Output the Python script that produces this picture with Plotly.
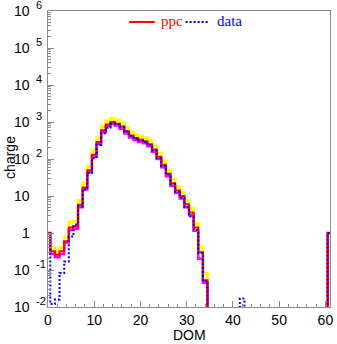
import plotly.graph_objects as go

# DOM number along the string (bins centred on integers)
dom = list(range(62))

# simulated charge (ppc) per DOM
ppc = [1.0, 0.32, 0.26, 0.32, 0.60, 1.4, 1.5, 5.8, 17, 50,
       130, 290, 600, 850, 1000, 900, 750, 560, 430, 370,
       330, 300, 250, 180, 115, 70, 40, 22, 14, 10,
       6.0, 3.6, 1.4, 0.30, 0.053, 0, 0, 0, 0, 0,
       0, 0, 0, 0, 0, 0, 0, 0, 0, 0,
       0, 0, 0, 0, 0, 0, 0, 0, 0, 0,
       0, 1.0]

# upper edge of the simulation band
ppc_hi = [1.0, 0.40, 0.33, 0.40, 0.75, 2.0, 2.1, 7.5, 22, 64,
          165, 370, 760, 1080, 1250, 1120, 940, 700, 530, 460,
          410, 370, 310, 225, 145, 88, 50, 28, 18, 12.5,
          7.5, 4.6, 1.8, 0.42, 0.08, 0, 0, 0, 0, 0,
          0, 0, 0, 0, 0, 0, 0, 0, 0, 0,
          0, 0, 0, 0, 0, 0, 0, 0, 0, 0,
          0, 1.0]

# lower edge of the simulation band
ppc_lo = [1.0, 0.27, 0.22, 0.27, 0.55, 1.2, 1.3, 5.0, 15, 44,
          115, 255, 530, 750, 880, 800, 660, 490, 380, 325,
          290, 265, 220, 158, 100, 60, 34, 19, 12, 8.6,
          5.0, 3.0, 1.15, 0.20, 0.045, 0, 0, 0, 0, 0,
          0, 0, 0, 0, 0, 0, 0, 0, 0, 0,
          0, 0, 0, 0, 0, 0, 0, 0, 0, 0,
          0, 1.0]

# measured charge per DOM
data = [1.0, 0.012, 0.016, 0.083, 0.17, 0.8, 1.7, 5.2, 15, 42,
        105, 240, 500, 700, 900, 870, 740, 550, 420, 360,
        320, 290, 240, 170, 105, 65, 38, 21, 13, 9.0,
        5.0, 2.8, 1.2, 0.29, 0.05, 0, 0, 0, 0, 0,
        0, 0, 0.017, 0, 0, 0, 0, 0, 0, 0,
        0, 0, 0, 0, 0, 0, 0, 0, 0, 0,
        0, 1.0]

# y-axis decades and x-axis ticks
y_exponents = [-2, -1, 0, 1, 2, 3, 4, 5, 6]
x_ticks = [0, 10, 20, 30, 40, 50, 60]

FLOOR = 1e-4  # empty bins are drawn below the visible log range


def steps(vals):
    """Histogram outline: horizontal run over each bin, vertical at edges."""
    xs, ys = [dom[0] - 0.5], [FLOOR]
    for d, v in zip(dom, vals):
        y = v if v > 0 else FLOOR
        xs += [d - 0.5, d + 0.5]
        ys += [y, y]
    xs.append(dom[-1] + 0.5)
    ys.append(FLOOR)
    return xs, ys


fig = go.Figure()

for vals, color, width in [(ppc_hi, "#ffff00", 3), (ppc_lo, "#ff00ff", 2.5)]:
    xs, ys = steps(vals)
    fig.add_trace(go.Scatter(x=xs, y=ys, mode="lines", showlegend=False,
                             line=dict(color=color, width=width), hoverinfo="skip"))

red_line = dict(color="#ff0000", width=2)
blue_line = dict(color="#0000ff", width=2, dash="2px,2px")

xs, ys = steps(ppc)
fig.add_trace(go.Scatter(x=xs, y=ys, mode="lines", name="ppc", showlegend=False,
                         line=red_line))
xs, ys = steps(data)
fig.add_trace(go.Scatter(x=xs, y=ys, mode="lines", name="data", showlegend=False,
                         line=blue_line))

# key across the top of the frame: sample line followed by coloured label
key_y = 0.963
for (x0, x1, xt), label, style in [((0.288, 0.379, 0.393), "ppc", red_line),
                                   ((0.488, 0.568, 0.593), "data", blue_line)]:
    fig.add_shape(type="line", xref="paper", yref="paper", x0=x0, x1=x1,
                  y0=key_y, y1=key_y, line=style)
    fig.add_annotation(x=xt, xref="paper", y=key_y + 0.004, yref="paper", text=label,
                       showarrow=False, xanchor="left", yanchor="middle",
                       font=dict(family="Liberation Serif", size=15, color=style["color"]))

axis_color = "#8c8c8c"
fig.update_xaxes(range=[0, 61], showline=True, linecolor=axis_color, linewidth=1,
                 mirror=True, showgrid=False, zeroline=False,
                 tickmode="array", tickvals=x_ticks, ticks="inside", ticklen=6,
                 tickcolor=axis_color,
                 minor=dict(ticks="inside", ticklen=3, tickcolor=axis_color, dtick=2,
                            showgrid=False),
                 tickfont=dict(family="Liberation Sans", size=14, color="black"))

minor_y = [m * 10.0 ** e for e in y_exponents[:-1] for m in range(2, 10)]
fig.update_yaxes(type="log", range=[-2, 6], showline=True, linecolor=axis_color,
                 linewidth=1, mirror=True, showgrid=False, zeroline=False,
                 tickmode="array", tickvals=[10.0 ** e for e in y_exponents],
                 ticks="inside", ticklen=6, tickcolor=axis_color, showticklabels=False,
                 minor=dict(ticks="inside", ticklen=3, tickcolor=axis_color,
                            tickmode="array", tickvals=minor_y, showgrid=False))

# decade labels: base number with a raised exponent
for e in y_exponents:
    base = "1" if e == 0 else "10"
    fig.add_annotation(x=-0.056, xref="paper", y=e, yref="y", text=base,
                       showarrow=False, xanchor="right", yanchor="middle",
                       font=dict(family="Liberation Sans", size=14, color="black"))
    if e not in (0, 1):
        fig.add_annotation(x=-0.049, xref="paper", y=e, yref="y", text=str(e),
                           showarrow=False, xanchor="left", yanchor="middle", yshift=6,
                           font=dict(family="Liberation Sans", size=11, color="black"))

fig.add_annotation(x=-0.137, xref="paper", y=0.505, yref="paper", text="charge",
                   textangle=-90, showarrow=False, xanchor="center", yanchor="middle",
                   font=dict(family="Liberation Sans", size=14, color="black"))
fig.add_annotation(x=0.5, xref="paper", y=-0.095, yref="paper", text="DOM",
                   showarrow=False, xanchor="center", yanchor="middle",
                   font=dict(family="Liberation Sans", size=14, color="black"))

fig.update_layout(
    width=337, height=344,
    margin=dict(l=48, r=4, t=11, b=37),
    paper_bgcolor="white", plot_bgcolor="white",
    showlegend=False,
)

fig.write_html("out.html")
